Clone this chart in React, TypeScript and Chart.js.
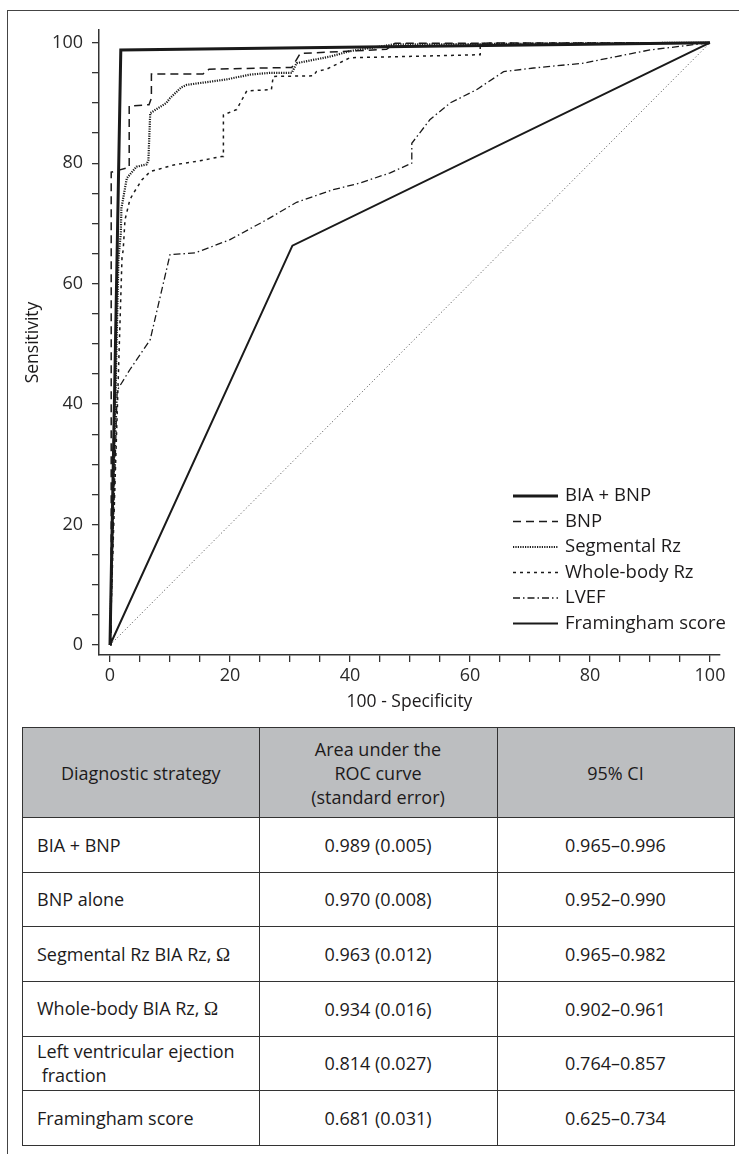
import React, { useEffect, useRef } from "react";
import { Chart, registerables } from "chart.js";

Chart.register(...registerables);

const FONT = "'Open Sans', sans-serif";
const INK = "#1c1a1b";

// ---- axis ticks ----
const xTickLabels = [0, 20, 40, 60, 80, 100];
const yTickLabels = [0, 20, 40, 60, 80, 100];

// ---- series (x = 100 - specificity, y = sensitivity) ----
const seriesLabels = ["BIA + BNP", "BNP", "Segmental Rz", "Whole-body Rz", "LVEF", "Framingham score"];

const biaBnpX = [0, 1.8, 100];
const biaBnpY = [0, 98.8, 100];

const bnpX = [0, 0.2, 0.2, 3.2, 3.2, 6.5, 6.9, 6.9, 15.5, 16.5, 30.3, 31.7, 46.1, 47.5, 100];
const bnpY = [0, 0, 78.5, 79.3, 89.5, 89.7, 90.8, 94.8, 94.8, 95.6, 95.9, 98.2, 98.9, 99.9, 100];

const segX = [0, 1.4, 1.8, 1.9, 2.8, 4.4, 6.1, 6.4, 6.7, 9.4, 10, 11.9, 12.8, 15, 19.4, 23.3, 26.7, 30.3, 31.1, 36.7, 40, 47.2, 100];
const segY = [0, 64, 68.4, 72.5, 77.5, 79.4, 79.8, 80.5, 88.3, 90, 90.8, 92.6, 93.0, 93.3, 93.9, 94.7, 95.0, 95.0, 96.6, 97.7, 98.6, 99.7, 100];

const wholeX = [0, 2.0, 2.2, 2.5, 3.3, 3.9, 5.3, 6.7, 10.6, 15, 18.6, 18.9, 18.9, 21.1, 22.8, 26.9, 27.2, 33.9, 34.4, 36.1, 40, 61.7, 61.7, 100];
const wholeY = [0, 64.3, 65.6, 70.6, 73.9, 75, 77.2, 78.6, 79.7, 80.4, 81.1, 81.1, 88.0, 88.9, 92.0, 92.2, 94.4, 94.5, 95.2, 95.6, 97.5, 98.0, 99.9, 100];

const lvefX = [0, 1.2, 3.3, 6.7, 10, 14.2, 20, 26.1, 31.1, 37.2, 41.7, 46.7, 50.3, 50.3, 53.3, 56.7, 61.1, 65.6, 70.6, 78.9, 84.4, 90, 100];
const lvefY = [0, 42.3, 45.7, 50.7, 64.8, 65.1, 67.3, 70.6, 73.5, 75.6, 76.7, 78.4, 80.0, 83.3, 87.2, 90.0, 92.2, 95.2, 95.8, 96.6, 97.7, 98.8, 100];

const framX = [0, 30.4, 100];
const framY = [0, 66.3, 100];

const refX = [0, 100];
const refY = [0, 100];

// ---- table ----
const tableHeaders = ["Diagnostic strategy", "Area under the\nROC curve\n(standard error)", "95% CI"];
const strategies = ["BIA + BNP", "BNP alone", "Segmental Rz BIA Rz, Ω", "Whole-body BIA Rz, Ω", "Left ventricular ejection\n fraction", "Framingham score"];
const aucValues = ["0.989 (0.005)", "0.970 (0.008)", "0.963 (0.012)", "0.934 (0.016)", "0.814 (0.027)", "0.681 (0.031)"];
const ciValues = ["0.965–0.996", "0.952–0.990", "0.965–0.982", "0.902–0.961", "0.764–0.857", "0.625–0.734"];

const pts = (xs: number[], ys: number[]) => xs.map((x, i) => ({ x, y: ys[i] }));

const lineDs = (label: string, xs: number[], ys: number[], width: number, dash: number[], color = "#1a1a1a") => ({
  label,
  data: pts(xs, ys),
  showLine: true,
  borderColor: color,
  backgroundColor: color,
  borderWidth: width,
  borderDash: dash,
  pointRadius: 0,
  pointHoverRadius: 0,
  tension: 0,
  fill: false,
  borderCapStyle: "butt",
  borderJoinStyle: "miter",
});

const insideLegend = {
  id: "insideLegend",
  afterDraw(chart: any) {
    const ctx = chart.ctx as CanvasRenderingContext2D;
    ctx.save();
    ctx.font = `18.5px ${FONT}`;
    ctx.textBaseline = "middle";
    ctx.fillStyle = INK;
    const x0 = 513, x1 = 558, tx = 565, y0 = 496, dy = 25.5;
    chart.data.datasets.forEach((ds: any, i: number) => {
      if (!ds.label) return;
      const y = y0 + i * dy;
      ctx.beginPath();
      ctx.setLineDash(ds.borderDash || []);
      ctx.lineWidth = ds.borderWidth;
      ctx.strokeStyle = ds.borderColor;
      ctx.moveTo(x0, y);
      ctx.lineTo(x1, y);
      ctx.stroke();
      ctx.setLineDash([]);
      ctx.fillText(ds.label, tx, y);
    });
    ctx.restore();
  },
};

function RocChart() {
  const ref = useRef<HTMLCanvasElement | null>(null);
  useEffect(() => {
    if (!ref.current) return;
    const axisCommon = (labels: number[]) => ({
      type: "linear",
      grid: { display: true, drawOnChartArea: false, drawTicks: true, tickLength: 7, color: "#333", lineWidth: 1.3 },
      border: { display: true, color: "#333", width: 1.5 },
      ticks: {
        stepSize: 5,
        includeBounds: false,
        autoSkip: false,
        maxRotation: 0,
        color: "#2a2a2a",
        font: { family: FONT, size: 18 },
        callback: (v: number) => (labels.includes(v) ? String(v) : ""),
      },
    });
    const chart = new Chart(ref.current, {
      type: "scatter",
      data: {
        datasets: [
          lineDs(seriesLabels[0], biaBnpX, biaBnpY, 3, []),
          lineDs(seriesLabels[1], bnpX, bnpY, 1.5, [8, 5]),
          lineDs(seriesLabels[2], segX, segY, 2.2, [1.2, 1.2]),
          lineDs(seriesLabels[3], wholeX, wholeY, 1.5, [3, 4]),
          lineDs(seriesLabels[4], lvefX, lvefY, 1.3, [7, 3, 1.5, 3]),
          lineDs(seriesLabels[5], framX, framY, 2, []),
          lineDs("", refX, refY, 1, [1, 2.5], "#444"),
        ] as any,
      },
      options: {
        animation: false,
        responsive: false,
        devicePixelRatio: 1,
        layout: { padding: { left: 0, top: 30, right: 19, bottom: 0 } },
        plugins: { legend: { display: false }, tooltip: { enabled: false } },
        events: [],
        scales: {
          x: {
            ...axisCommon(xTickLabels),
            position: "bottom",
            min: -11 / 6,
            max: 100 + 10 / 6,
            afterFit: (s: any) => { s.height = 65; },
            ticks: { ...axisCommon(xTickLabels).ticks, padding: 3 },
            title: { display: true, text: "100 - Specificity", color: INK, font: { family: FONT, size: 17.5 }, padding: { top: 0, bottom: 7 } },
          },
          y: {
            ...axisCommon(yTickLabels),
            position: "left",
            min: -10 / 6.023,
            max: 100 + 12.7 / 6.023,
            afterFit: (s: any) => { s.width = 99; },
            ticks: { ...axisCommon(yTickLabels).ticks, padding: 9 },
            title: { display: true, text: "Sensitivity", color: INK, font: { family: FONT, size: 17.5 }, padding: { top: 23, bottom: 0 } },
          },
        } as any,
      },
      plugins: [insideLegend],
    });
    return () => chart.destroy();
  }, []);
  return <canvas ref={ref} width={739} height={720} style={{ position: "absolute", left: 0, top: 0, width: 739, height: 720 }} />;
}

function Cell({ text, header, align }: { text: string; header?: boolean; align: "left" | "center" }) {
  const lines = text.split("\n");
  return (
    <div
      style={{
        boxSizing: "border-box",
        borderRight: "1.5px solid #333",
        borderBottom: "1.5px solid #333",
        background: header ? "#bcbec0" : "#fff",
        display: "flex",
        alignItems: "center",
        justifyContent: align === "left" ? "flex-start" : "center",
        paddingLeft: align === "left" ? 14 : 0,
        textAlign: align,
        lineHeight: "24px",
        whiteSpace: "pre",
      }}
    >
      <div>
        {lines.map((l, i) => (
          <div key={i}>
            {l.split("Ω").map((part, j, arr) => (
              <React.Fragment key={j}>
                {part}
                {j < arr.length - 1 ? <span style={{ fontFamily: "'Liberation Serif', serif", fontSize: 19 }}>Ω</span> : null}
              </React.Fragment>
            ))}
          </div>
        ))}
      </div>
    </div>
  );
}

function RocTable() {
  const rows = strategies.map((s, i) => [s, aucValues[i], ciValues[i]]);
  return (
    <div
      style={{
        position: "absolute",
        left: 22,
        top: 727,
        width: 713,
        boxSizing: "border-box",
        borderLeft: "1.5px solid #333",
        borderTop: "1.5px solid #333",
        display: "grid",
        gridTemplateColumns: "236.5px 238px 237px",
        gridTemplateRows: "90px repeat(6, 54.67px)",
        fontFamily: FONT,
        fontSize: 18,
        color: INK,
      }}
    >
      {tableHeaders.map((h, i) => (
        <Cell key={"h" + i} text={h} header align="center" />
      ))}
      {rows.map((r, ri) =>
        r.map((c, ci) => <Cell key={ri + "-" + ci} text={c} align={ci === 0 ? "left" : "center"} />)
      )}
    </div>
  );
}

export default function App() {
  return (
    <div style={{ position: "absolute", left: 0, top: 0, width: 739, height: 1154, background: "#fff", overflow: "hidden" }}>
      <div style={{ position: "absolute", left: 7, top: 10, width: 740, height: 1150, borderLeft: "1px solid #444", borderTop: "1px solid #444" }} />
      <RocChart />
      <RocTable />
    </div>
  );
}
